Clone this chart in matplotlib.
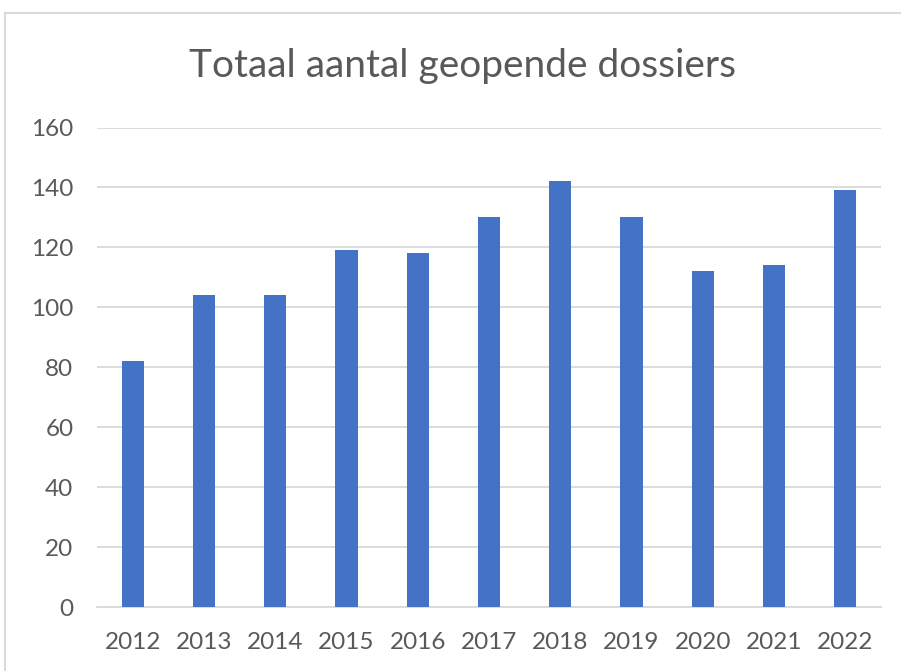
import matplotlib.pyplot as plt
from matplotlib.lines import Line2D

years = ["2012", "2013", "2014", "2015", "2016", "2017", "2018", "2019", "2020", "2021", "2022"]
dossiers = [82, 104, 104, 119, 118, 130, 142, 130, 112, 114, 139]
y_ticks = [0, 20, 40, 60, 80, 100, 120, 140, 160]

plt.rcParams["font.family"] = ["Lato", "DejaVu Sans"]
text_color = "#595959"
grid_color = "#d9d9d9"

fig = plt.figure(figsize=(9.01, 6.71), dpi=100)
ax = fig.add_axes([97 / 901, 1 - 607 / 671, 784 / 901, (607 - 127.5) / 671])

x = range(len(years))
ax.bar(x, dossiers, width=0.31, color="#4472C4", zorder=3)

ax.set_xlim(-0.5, len(years) - 0.5)
ax.set_ylim(0, 160)
ax.set_yticks(y_ticks)
ax.set_xticks(list(x))
ax.set_xticklabels(years)
ax.grid(axis="y", color=grid_color, linewidth=1.3, zorder=0)
ax.tick_params(axis="both", length=0, labelsize=17.5, colors=text_color)
ax.tick_params(axis="y", pad=17)
ax.tick_params(axis="x", pad=18)
for side in ["top", "right", "left"]:
    ax.spines[side].set_visible(False)
ax.spines["bottom"].set_color(grid_color)
ax.spines["bottom"].set_linewidth(1.3)

fig.text(462 / 901, 1 - 77 / 671, "Totaal aantal geopende dossiers",
         ha="center", va="baseline", fontsize=28, color=text_color)

# outer chart border (top and left edge visible)
fig.add_artist(Line2D([5 / 901, 1], [1 - 13 / 671, 1 - 13 / 671], color=grid_color,
                      linewidth=1.5, transform=fig.transFigure))
fig.add_artist(Line2D([5 / 901, 5 / 901], [0, 1 - 13 / 671], color=grid_color,
                      linewidth=1.5, transform=fig.transFigure))

fig.savefig("out.png", dpi=100)
